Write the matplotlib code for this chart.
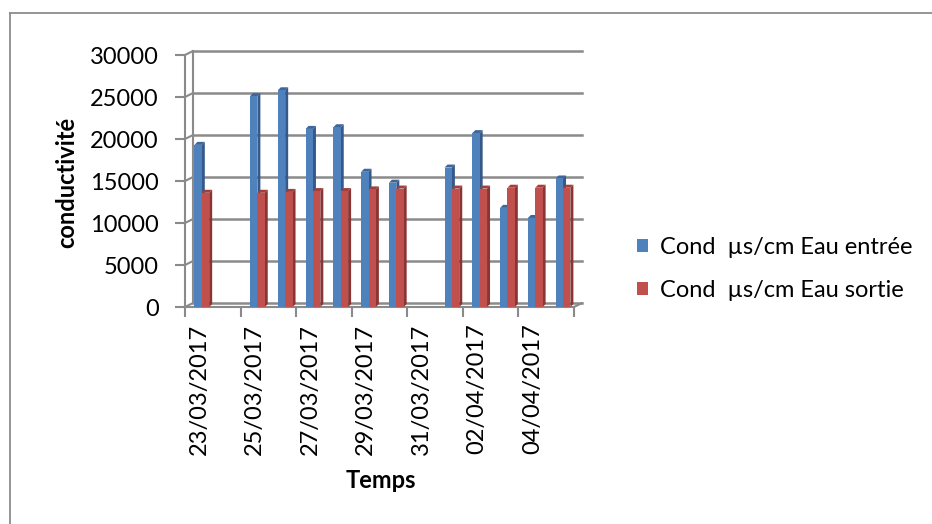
import numpy as np
import matplotlib
matplotlib.use("Agg")
import matplotlib.pyplot as plt
import matplotlib.transforms as mtransforms
from matplotlib.patches import Polygon, Patch
from matplotlib.lines import Line2D

plt.rcParams['font.family'] = ['Lato', 'DejaVu Sans']

dates = ['23/03/2017', '24/03/2017', '25/03/2017', '26/03/2017', '27/03/2017',
         '28/03/2017', '29/03/2017', '30/03/2017', '31/03/2017', '01/04/2017',
         '02/04/2017', '03/04/2017', '04/04/2017', '05/04/2017']
entree = [19300, None, 25100, 25800, 21200, 21400, 16100, 14800, None, 16600,
          20700, 11800, 10600, 15300]
sortie = [13600, None, 13600, 13700, 13800, 13800, 14000, 14100, None, 14100,
          14100, 14200, 14200, 14200]

lbl_entree = 'Cond  µs/cm Eau entrée'
lbl_sortie = 'Cond  µs/cm Eau sortie'

c_blue, c_blue_side, c_blue_top = '#4F81BD', '#34598A', '#3E6699'
c_red, c_red_side, c_red_top = '#C0504D', '#8A3533', '#A13F3C'
c_grid = '#8A8A8A'
fs = 17

W, H = 932, 524
fig = plt.figure(figsize=(W / 100, H / 100), dpi=100)

# cadre (haut + gauche visibles)
fig.add_artist(Line2D([10 / W, 1], [1 - 13 / H, 1 - 13 / H], color='#8C8C8C', lw=1.3))
fig.add_artist(Line2D([10 / W, 10 / W], [0, 1 - 13 / H], color='#8C8C8C', lw=1.3))

x0, x1, yb, yt = 185, 574, 307, 55
ax = fig.add_axes([x0 / W, 1 - yb / H, (x1 - x0) / W, (yb - yt) / H])
n = len(dates)
ymax = 30000
ax.set_xlim(-0.5, n - 0.5)
ax.set_ylim(0, ymax)
for s in ['top', 'right']:
    ax.spines[s].set_visible(False)
for s in ['left', 'bottom']:
    ax.spines[s].set_color(c_grid)
    ax.spines[s].set_linewidth(1.5)

# effet 3D : décalage du mur du fond
off = ax.transData + mtransforms.ScaledTranslation(8 / 100, 4 / 100, fig.dpi_scale_trans)
yticks = np.arange(0, ymax + 1, 5000)
for v in yticks:
    ax.plot([-0.5, n - 0.5], [v, v], color=c_grid, lw=1.8, transform=off, zorder=1, clip_on=False)
    ax.annotate('', xy=(-0.5, v), xycoords=off, xytext=(-0.5, v), textcoords='data',
                arrowprops=dict(arrowstyle='-', color=c_grid, lw=1.5, shrinkA=0, shrinkB=0))
ax.plot([-0.5, -0.5], [0, ymax], color=c_grid, lw=1.5, transform=off, zorder=1, clip_on=False)
ax.annotate('', xy=(n - 0.5, 0), xycoords=off, xytext=(n - 0.5, 0), textcoords='data',
            arrowprops=dict(arrowstyle='-', color=c_grid, lw=1.5, shrinkA=0, shrinkB=0))

# barres avec faces latérales et dessus
px_x = (x1 - x0) / n
px_y = (yb - yt) / ymax
dx, dy = 3 / px_x, 3 / px_y
bw = 0.265
xs = np.arange(n)


def bar3d(x, h, front, side, top):
    ax.add_patch(Polygon([(x + bw, 0), (x + bw + dx, dy), (x + bw + dx, h + dy), (x + bw, h)],
                         closed=True, facecolor=side, edgecolor='none', zorder=3, clip_on=False))
    ax.add_patch(Polygon([(x, h), (x + dx, h + dy), (x + bw + dx, h + dy), (x + bw, h)],
                         closed=True, facecolor=top, edgecolor='none', zorder=3, clip_on=False))
    ax.bar(x, h, width=bw, align='edge', color=front, zorder=3, clip_on=False)


for i in xs:
    if entree[i] is not None:
        bar3d(i - 0.16, entree[i], c_blue, c_blue_side, c_blue_top)
    if sortie[i] is not None:
        bar3d(i - 0.16 + bw, sortie[i], c_red, c_red_side, c_red_top)

# axes
ax.set_yticks(yticks)
ax.tick_params(axis='y', length=7, width=1.5, color=c_grid, pad=12, labelsize=fs)
ax.set_xticks(np.arange(-0.5, n, 2))
ax.set_xticklabels([])
ax.set_xticks(xs[::2], [dates[i] for i in xs[::2]], minor=True, rotation=90)
ax.tick_params(axis='x', which='major', length=7, width=1.5, color=c_grid)
ax.tick_params(axis='x', which='minor', length=0, pad=12, labelsize=fs)

fig.text(67 / W, 1 - 182 / H, 'conductivité', rotation=90, ha='center', va='center',
         fontsize=fs, fontweight='bold')
fig.text(381 / W, 1 - 481 / H, 'Temps', ha='center', va='center', fontsize=fs, fontweight='bold')

handles = [Patch(facecolor=c_blue, label=lbl_entree), Patch(facecolor=c_red, label=lbl_sortie)]
fig.legend(handles=handles, loc='center left', bbox_to_anchor=(637 / W, 1 - 269 / H),
           frameon=False, fontsize=fs, handlelength=0.47, handleheight=0.47,
           handletextpad=0.5, labelspacing=0.9, borderpad=0, borderaxespad=0)

fig.savefig('out.png', dpi=100)
